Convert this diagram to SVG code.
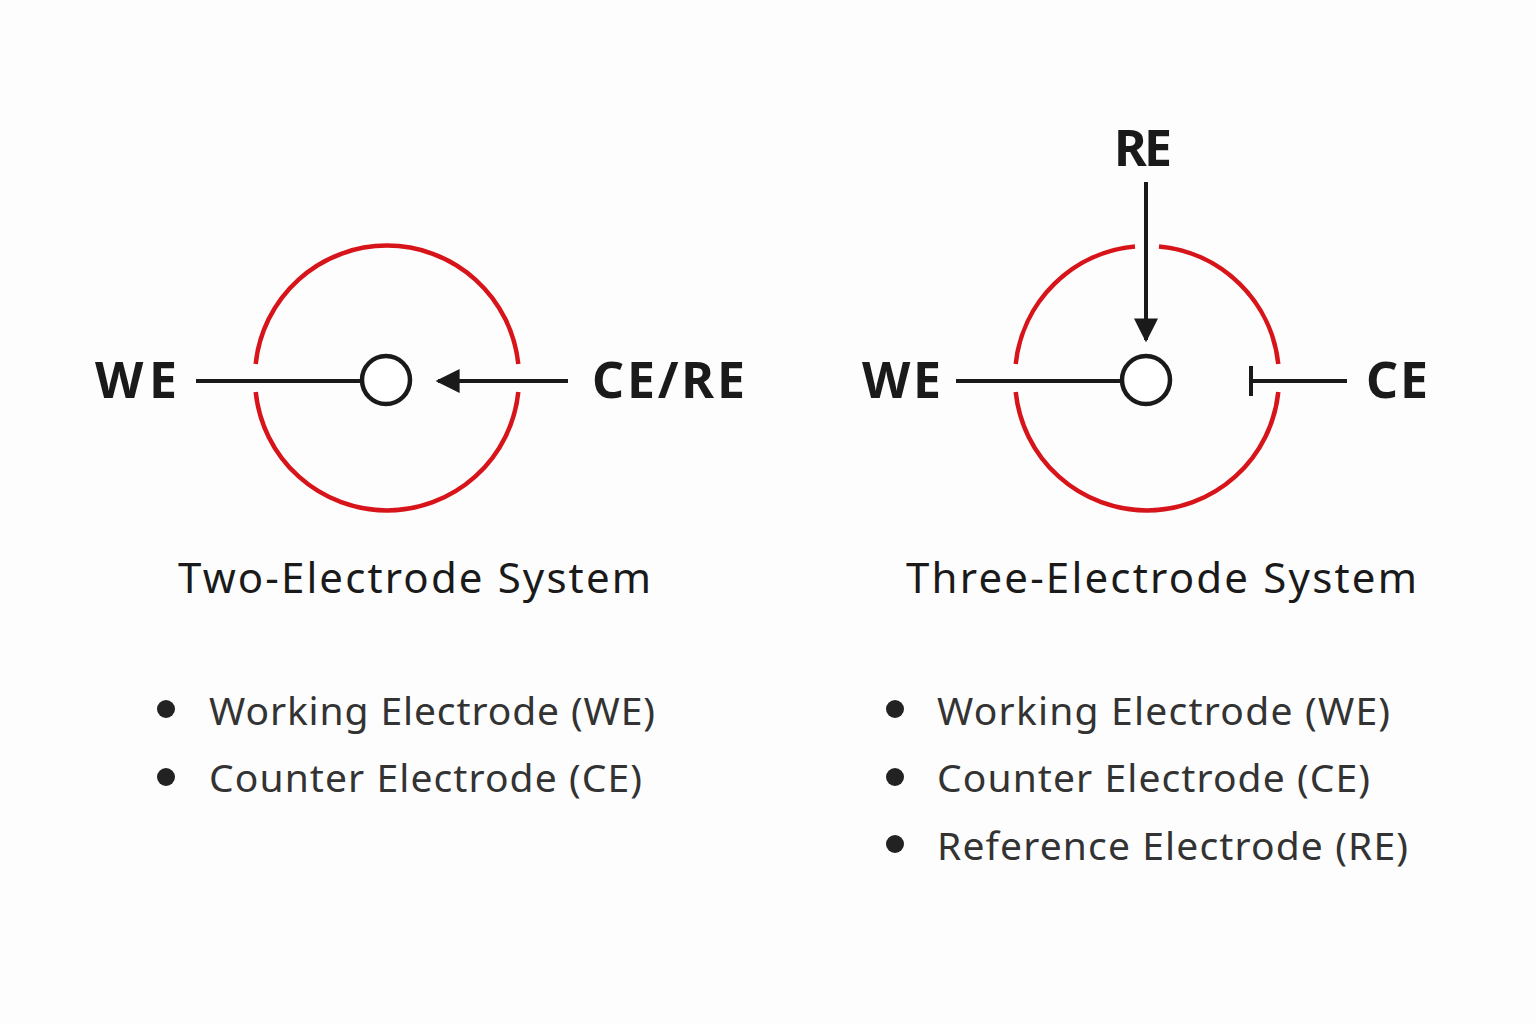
<svg xmlns="http://www.w3.org/2000/svg" width="1536" height="1024" viewBox="0 0 1536 1024">
<defs>
<style>
.ring{fill:none;stroke:#d7141a;stroke-width:4.5}
.ln{stroke:#1a1a1a;stroke-width:4;fill:none}
.el{fill:#fff;stroke:#1a1a1a;stroke-width:4.5}
.lab{font-family:"Noto Sans","Open Sans",sans-serif;font-weight:bold;font-size:50px;fill:#1a1a1a}
.ttl{font-family:"Noto Sans","Open Sans",sans-serif;font-size:42px;fill:#1a1a1a}
.bl{font-family:"Noto Sans","Open Sans",sans-serif;font-size:39px;fill:#333}
.dot{fill:#222}
</style>
<marker id="ah" viewBox="0 0 10 10" refX="9" refY="5" markerWidth="6" markerHeight="6" markerUnits="strokeWidth" orient="auto"><path d="M0,0 L10,5 L0,10 z" fill="#1a1a1a"/></marker>
</defs>
<rect width="1536" height="1024" fill="#fdfdfd"/>
<g id="two-system">
<path class="ring" d="M518.3,392 A132,132 0 0 1 255.7,392 M255.7,364 A132,132 0 0 1 518.3,364"/>
<circle class="el" cx="386" cy="380" r="24"/>
</g>
<g id="three-system">
<path class="ring" d="M1278.3,392 A132,132 0 0 1 1015.7,392 M1015.7,364 A132,132 0 0 1 1135,246.5 M1159,246.5 A132,132 0 0 1 1278.3,364"/>
<circle class="el" cx="1146" cy="380" r="24"/>
</g>
<g id="connectors">
<line class="ln" x1="196" y1="381" x2="362" y2="381"/>
<line class="ln" x1="568" y1="381" x2="438" y2="381" marker-end="url(#ah)"/>
<line class="ln" x1="956" y1="381" x2="1122" y2="381"/>
<line class="ln" x1="1146" y1="182" x2="1146" y2="340" marker-end="url(#ah)"/>
<line class="ln" x1="1251" y1="381" x2="1347" y2="381"/>
<line class="ln" x1="1251" y1="366" x2="1251" y2="396"/>
</g>
<g id="labels">
<text class="lab" x="95" y="398" textLength="82">WE</text>
<text class="lab" x="592" y="398" textLength="153">CE/RE</text>
<text class="lab" x="862" y="398" textLength="79">WE</text>
<text class="lab" x="1366" y="398" textLength="62">CE</text>
<text class="lab" x="1114" y="166" textLength="58">RE</text>
<text class="ttl" x="178" y="593" textLength="473">Two-Electrode System</text>
<text class="ttl" x="906" y="593" textLength="511">Three-Electrode System</text>
</g>
<g id="legend-two">
<circle class="dot" cx="166" cy="709" r="9"/><text class="bl" x="209" y="725" textLength="446">Working Electrode (WE)</text>
<circle class="dot" cx="166" cy="777" r="9"/><text class="bl" x="209" y="792" textLength="433">Counter Electrode (CE)</text>
</g>
<g id="legend-three">
<circle class="dot" cx="895" cy="709" r="9"/><text class="bl" x="937" y="725" textLength="453">Working Electrode (WE)</text>
<circle class="dot" cx="895" cy="777" r="9"/><text class="bl" x="937" y="792" textLength="433">Counter Electrode (CE)</text>
<circle class="dot" cx="895" cy="844" r="9"/><text class="bl" x="937" y="860" textLength="471">Reference Electrode (RE)</text>
</g>
</svg>
